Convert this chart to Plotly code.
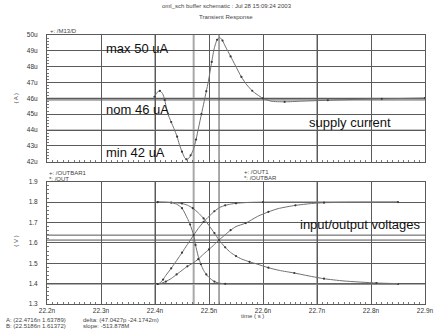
import plotly.graph_objects as go

# ---------------- data ----------------
# supply current (uA) vs time (ns)
t_cur = [22.399, 22.404, 22.409, 22.414, 22.418, 22.423, 22.430, 22.435, 22.441, 22.445,
         22.450, 22.455, 22.458, 22.462, 22.466, 22.471, 22.476, 22.481, 22.486, 22.491,
         22.495, 22.4987, 22.505, 22.510, 22.515, 22.5197, 22.525, 22.530, 22.540, 22.5484,
         22.560, 22.570, 22.580, 22.589, 22.600, 22.615, 22.640, 22.670, 22.720, 22.770,
         22.820, 22.870, 22.900]
i_cur = [46.10, 46.38, 46.47, 46.30, 45.90, 45.10, 44.50, 44.10, 43.58, 43.10,
         42.63, 42.25, 42.15, 42.20, 42.40, 42.75, 43.40, 44.20, 45.00, 45.80,
         46.45, 47.05, 48.30, 49.20, 49.70, 49.85, 49.65, 49.30, 48.65, 48.10,
         47.35, 46.85, 46.48, 46.24, 46.00, 45.82, 45.78, 45.82, 45.88, 45.93,
         45.97, 46.00, 46.02]

# input voltages (fast pair)
t_in_fall = [22.405, 22.42, 22.43, 22.44, 22.45, 22.46, 22.465, 22.4716, 22.475, 22.48,
             22.485, 22.49, 22.495, 22.50, 22.51, 22.52, 22.53, 22.60, 22.85]
v_in_fall = [1.800, 1.799, 1.797, 1.790, 1.770, 1.720, 1.690, 1.638, 1.590, 1.535,
             1.495, 1.465, 1.445, 1.430, 1.410, 1.402, 1.399, 1.398, 1.398]
t_in_rise = [22.405, 22.41, 22.415, 22.42, 22.43, 22.44, 22.45, 22.46, 22.4716, 22.48,
             22.49, 22.50, 22.51, 22.52, 22.53, 22.54, 22.55, 22.57, 22.60, 22.85]
v_in_rise = [1.398, 1.405, 1.420, 1.440, 1.475, 1.513, 1.552, 1.592, 1.638, 1.670,
             1.703, 1.730, 1.755, 1.774, 1.784, 1.790, 1.794, 1.798, 1.800, 1.800]

# output voltages (slow pair)
t_out_fall = [22.405, 22.43, 22.45, 22.46, 22.47, 22.48, 22.49, 22.50, 22.51, 22.5186,
              22.53, 22.54, 22.55, 22.56, 22.575, 22.589, 22.61, 22.63, 22.658, 22.69,
              22.713, 22.75, 22.81, 22.85]
v_out_fall = [1.800, 1.799, 1.793, 1.785, 1.770, 1.748, 1.720, 1.685, 1.648, 1.614,
              1.578, 1.553, 1.535, 1.521, 1.507, 1.496, 1.478, 1.465, 1.452, 1.435,
              1.424, 1.413, 1.403, 1.400]
t_out_rise = [22.405, 22.41, 22.42, 22.43, 22.44, 22.45, 22.46, 22.47, 22.48, 22.49,
              22.50, 22.51, 22.5186, 22.53, 22.54, 22.55, 22.568, 22.59, 22.61, 22.628,
              22.66, 22.69, 22.713, 22.76, 22.85]
v_out_rise = [1.398, 1.400, 1.410, 1.425, 1.445, 1.465, 1.485, 1.500, 1.520, 1.545,
              1.568, 1.592, 1.614, 1.640, 1.662, 1.680, 1.697, 1.730, 1.752, 1.768,
              1.784, 1.793, 1.797, 1.799, 1.800]

x_ticks = [22.2, 22.3, 22.4, 22.5, 22.6, 22.7, 22.8, 22.9]
x_labels = ["22.2n", "22.3n", "22.4n", "22.5n", "22.6n", "22.7n", "22.8n", "22.9n"]
i_ticks = [42, 43, 44, 45, 46, 47, 48, 49, 50]
i_labels = ["42u", "43u", "44u", "45u", "46u", "47u", "48u", "49u", "50u"]
v_ticks = [1.3, 1.4, 1.5, 1.6, 1.7, 1.8, 1.9]

cursor_a = (22.4716, 1.63789)
cursor_b = (22.5186, 1.61372)

# ---------------- figure ----------------
FONT = "Liberation Sans, Arial, sans-serif"
LINE = "#707070"
MARK = "#3a3a3a"
GRID = "#5a5a5a"

fig = go.Figure()

def add_curve(x, y, xa, ya):
    fig.add_trace(go.Scatter(
        x=x, y=y, xaxis=xa, yaxis=ya, mode="lines",
        line=dict(color=LINE, width=1, shape="spline", smoothing=0.6),
        showlegend=False, hoverinfo="skip"))
    fig.add_trace(go.Scatter(
        x=x[::2], y=y[::2], xaxis=xa, yaxis=ya, mode="markers",
        marker=dict(color=MARK, size=2.2),
        showlegend=False, hoverinfo="skip"))

add_curve(t_cur, i_cur, "x", "y")
add_curve(t_in_fall, v_in_fall, "x2", "y2")
add_curve(t_in_rise, v_in_rise, "x2", "y2")
add_curve(t_out_fall, v_out_fall, "x2", "y2")
add_curve(t_out_rise, v_out_rise, "x2", "y2")

tickfont = dict(family=FONT, size=6.5, color="#333")

common_x = dict(range=[22.2, 22.9], tickvals=x_ticks, ticktext=x_labels,
                showgrid=True, gridcolor=GRID, gridwidth=1,
                showline=True, linecolor=GRID, linewidth=1, mirror=True,
                ticks="inside", ticklen=3, tickcolor=GRID,
                minor=dict(dtick=0.01, ticks="inside", ticklen=2, tickcolor="#777", showgrid=False),
                zeroline=False, tickfont=tickfont)

fig.update_layout(
    width=446, height=332,
    margin=dict(l=47, r=13, t=35, b=28),
    paper_bgcolor="white", plot_bgcolor="white",
    font=dict(family=FONT, color="#222"),
    xaxis=dict(common_x, domain=[0, 1], anchor="y", showticklabels=False),
    yaxis=dict(domain=[0.529, 1], range=[42, 50], tickvals=i_ticks, ticktext=i_labels,
               showgrid=True, gridcolor=GRID, gridwidth=1,
               showline=True, linecolor=GRID, linewidth=1, mirror=True,
               ticks="inside", ticklen=3, tickcolor=GRID,
               minor=dict(dtick=0.2, ticks="inside", ticklen=2, tickcolor="#777", showgrid=False),
               zeroline=False, tickfont=tickfont, ticklabelstandoff=7, anchor="x"),
    xaxis2=dict(common_x, domain=[0, 1], anchor="y2", matches="x"),
    yaxis2=dict(domain=[0, 0.4546], range=[1.3, 1.9], tickvals=v_ticks, tickformat=".1f",
                showgrid=True, gridcolor=GRID, gridwidth=1,
                showline=True, linecolor=GRID, linewidth=1, mirror=True,
                ticks="inside", ticklen=3, tickcolor=GRID,
                minor=dict(dtick=0.02, ticks="inside", ticklen=2, tickcolor="#777", showgrid=False),
                zeroline=False, tickfont=tickfont, ticklabelstandoff=7, anchor="x2"),
)

shapes = []
# light (antialiased) grid lines
for xv in [22.4, 22.7]:
    for ya in ["y", "y2"]:
        shapes.append(dict(type="line", xref="x", yref=f"{ya} domain", x0=xv, x1=xv, y0=0, y1=1,
                           line=dict(color="#b0b0b0", width=2), layer="below"))
shapes.append(dict(type="line", xref="x domain", yref="y", x0=0, x1=1, y0=46, y1=46,
                   line=dict(color="#b0b0b0", width=1.5), layer="below"))
shapes.append(dict(type="line", xref="x domain", yref="y", x0=0, x1=1, y0=44, y1=44,
                   line=dict(color="#b0b0b0", width=1.5), layer="below"))
shapes.append(dict(type="line", xref="x domain", yref="y", x0=0, x1=1, y0=45.9, y1=45.9,
                   line=dict(color="#555", width=1), layer="below"))
shapes.append(dict(type="line", xref="x2 domain", yref="y2", x0=0, x1=1, y0=1.398, y1=1.398,
                   line=dict(color="#b0b0b0", width=2), layer="below"))
# cursors
shapes.append(dict(type="line", xref="x", yref="paper", x0=cursor_a[0], x1=cursor_a[0], y0=0, y1=1,
                   line=dict(color="#a8a8a8", width=2), layer="below"))
shapes.append(dict(type="line", xref="x", yref="paper", x0=cursor_b[0], x1=cursor_b[0], y0=0, y1=1,
                   line=dict(color="#555", width=1), layer="below"))
for yv in [cursor_a[1], cursor_b[1]]:
    shapes.append(dict(type="line", xref="x2 domain", yref="y2", x0=0, x1=1, y0=yv, y1=yv,
                       line=dict(color="#555", width=1), layer="below"))
fig.update_layout(shapes=shapes)

small = dict(family=FONT, size=6, color="#444")
big = dict(family=FONT, size=13, color="#111")
ann = []
def pa(text, x, y, font, xanchor="left", angle=0):
    ann.append(dict(text=text, x=x, y=y, xref="paper", yref="paper", showarrow=False,
                    xanchor=xanchor, yanchor="middle", font=font, textangle=angle))

pa("oml_sch buffer schematic : Jul 28 15:09:24 2003", 0.4767, 1.106, small, "center")
pa("Transient Response", 0.474, 1.0658, small, "center")
pa("+: /M13/D", 0.003, 1.0167, small)
pa("( A )", -0.083, 0.766, small, "center", -90)
pa("( V )", -0.083, 0.234, small, "center", -90)
pa("+: /OUTBAR1", 0.0, 0.487, small)
pa("*: /OUT", 0.0, 0.4665, small)
pa("+: /OUT1", 0.517, 0.4907, small)
pa("*: /OUTBAR", 0.517, 0.4684, small)
pa("time ( s )", 0.544, -0.044, small, "center")
pa(f"A: ({cursor_a[0]}n {cursor_a[1]})", -0.114, -0.061, small)
pa(f"B: ({cursor_b[0]}n {cursor_b[1]})", -0.114, -0.083, small)
pa("delta: (47.0427p -24.1742m)", 0.0907, -0.061, small)
pa("slope: -513.878M", 0.0907, -0.083, small)

def da(text, x, y, xa, ya):
    ann.append(dict(text=text, x=x, y=y, xref=xa, yref=ya, showarrow=False,
                    xanchor="left", yanchor="middle", font=big))

da("max 50 uA", 22.305, 49.16, "x", "y")
da("nom 46 uA", 22.305, 45.27, "x", "y")
da("min 42 uA", 22.305, 42.58, "x", "y")
da("supply current", 22.682, 44.48, "x", "y")
da("input/output voltages", 22.664, 1.6925, "x2", "y2")
fig.update_layout(annotations=ann)

fig.write_html("out.html", config={"displayModeBar": False},
               post_script="document.body.style.margin='0px';")
